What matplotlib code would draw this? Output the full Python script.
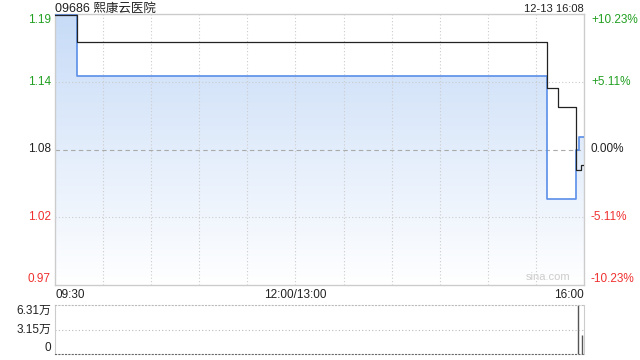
import numpy as np
import matplotlib
matplotlib.use("Agg")
import matplotlib.pyplot as plt
from matplotlib.patches import Polygon
from matplotlib.transforms import offset_copy

plt.rcParams['font.family'] = ['Liberation Sans', 'Noto Sans CJK SC', 'DejaVu Sans']

# ---- data ----
title = "09686 熙康云医院"
stamp = "12-13 16:08"
prev_close = 1.08
# price (blue, filled) step breakpoints: minute index from 09:30 (lunch removed)
price_min = [0, 14, 307, 325, 327, 330]
price_val = [1.19, 1.14, 1.04, 1.08, 1.09, 1.09]
# average price (black)
avg_min = [0, 14, 307, 314, 325, 328, 330]
avg_val = [1.19, 1.168, 1.13, 1.115, 1.063, 1.067, 1.067]
# volume bars
vol_min = [14, 307, 314, 326, 329]
vol_val = [300, 400, 300, 63100, 24500]
x_tick_pos = [0, 150, 330]
x_tick_lab = ["09:30", "12:00/13:00", "16:00"]
left_lab = ["1.19", "1.14", "1.08", "1.02", "0.97"]
right_lab = ["+10.23%", "+5.11%", "0.00%", "-5.11%", "-10.23%"]
pct_levels = [0.1023, 0.0511, 0.0, -0.0511, -0.1023]
vol_ticks = [0, 31550, 63100]
vol_lab = ["0", "3.15万", "6.31万"]

W, H = 640, 360
fig = plt.figure(figsize=(W / 100, H / 100), dpi=100)
fig.patch.set_facecolor('white')

ax = fig.add_axes([55 / W, 1 - 285 / H, 529 / W, 271 / H])
ymin = prev_close * (1 + pct_levels[-1])
ymax = prev_close * (1 + pct_levels[0])
ax.set_xlim(0, 330)
ax.set_ylim(ymin, ymax)

GREEN = '#22a022'
RED = '#f03030'
BORDER = '#cccccc'

# gradient fill below price line
xs = []
ys = []
for i in range(len(price_min) - 1):
    xs += [price_min[i], price_min[i + 1]]
    ys += [price_val[i], price_val[i]]
poly_pts = [(xs[0], ymin)] + list(zip(xs, ys)) + [(xs[-1], ymin)]
poly = Polygon(poly_pts, closed=True, facecolor='none', edgecolor='none')
ax.add_patch(poly)
grad = np.linspace(0, 1, 256).reshape(-1, 1)
c_top = np.array([0.78, 0.86, 0.97])
c_bot = np.array([1.0, 1.0, 1.0])
img = c_top[None, None, :] * (1 - grad[:, :, None]) + c_bot[None, None, :] * grad[:, :, None]
im = ax.imshow(img, extent=[0, 330, ymin, ymax], aspect='auto', origin='upper', zorder=1)
im.set_clip_path(poly)

# grid
for m in range(30, 330, 30):
    ax.axvline(m, color='#cccccc', lw=0.8, ls=(0, (1, 2)), zorder=2)
for p in [0.0511, -0.0511]:
    ax.axhline(prev_close * (1 + p), color='#cccccc', lw=0.8, ls=(0, (1, 2)), zorder=2)
ax.axhline(prev_close, color='#aaaaaa', lw=0.8, ls=(0, (4, 3)), zorder=2)

ax.plot(price_min, price_val, drawstyle='steps-post', color='#5a8ee8', lw=1.2, zorder=4)
ax.plot(avg_min, avg_val, drawstyle='steps-post', color='#222222', lw=0.9, zorder=5)

for s in ax.spines.values():
    s.set_color(BORDER)
    s.set_linewidth(1)

ax.set_xticks(x_tick_pos)
ax.set_xticklabels(x_tick_lab, fontsize=8.5, color='#222222')
ax.tick_params(axis='x', length=0, pad=3)
for lab, ha in zip(ax.get_xticklabels(), ['left', 'center', 'right']):
    lab.set_ha(ha)

yt = [prev_close * (1 + p) for p in pct_levels]
ax.set_yticks(yt)
ax.set_yticklabels(left_lab, fontsize=8.5)
ax.tick_params(axis='y', length=0, pad=3)
colors = [GREEN, GREEN, '#222222', RED, RED]
vas = ['top', 'center', 'center', 'center', 'bottom']
for lab, c, va in zip(ax.get_yticklabels(), colors, vas):
    lab.set_color(c)
    lab.set_va(va)

ax2 = ax.twinx()
ax2.set_ylim(ymin, ymax)
ax2.set_yticks(yt)
ax2.set_yticklabels(right_lab, fontsize=8.5)
ax2.tick_params(axis='y', length=0, pad=5)
for lab, c, va in zip(ax2.get_yticklabels(), colors, vas):
    lab.set_color(c)
    lab.set_va(va)
for s in ax2.spines.values():
    s.set_visible(False)

top_tr = offset_copy(ax.transAxes, fig=fig, x=0, y=2, units='dots')
ax.text(0.0, 1.0, title, transform=top_tr, ha='left', va='baseline', fontsize=9, color='#222222')
ax.text(1.0, 1.0, stamp, transform=top_tr, ha='right', va='baseline', fontsize=8, color='#222222')
ax.text(0.975, 0.01, "sina.com", transform=ax.transAxes, ha='right', va='bottom', fontsize=8, color='#cccccc', zorder=6)

# volume panel
axv = fig.add_axes([55 / W, 1 - 354 / H, 529 / W, 49 / H])
axv.set_xlim(0, 330)
axv.set_ylim(0, vol_ticks[-1])
axv.vlines(vol_min, 0, vol_val, color='#555555', lw=1.0)
axv.axhline(vol_ticks[1], color='#bbbbbb', lw=0.8, ls=(0, (1, 2)))
axv.spines['top'].set_color('#bbbbbb')
axv.spines['top'].set_linestyle((0, (1, 2)))
axv.spines['bottom'].set_color('#666666')
axv.spines['bottom'].set_linestyle((0, (1, 2)))
axv.spines['left'].set_color(BORDER)
axv.spines['right'].set_color(BORDER)
axv.set_xticks([])
axv.set_yticks(vol_ticks)
axv.set_yticklabels(vol_lab, fontsize=8.5, color='#222222')
axv.tick_params(axis='y', length=0, pad=3)
for lab, va in zip(axv.get_yticklabels(), ['bottom', 'center', 'top']):
    lab.set_va(va)

fig.savefig('out.png', dpi=100, facecolor='white')
